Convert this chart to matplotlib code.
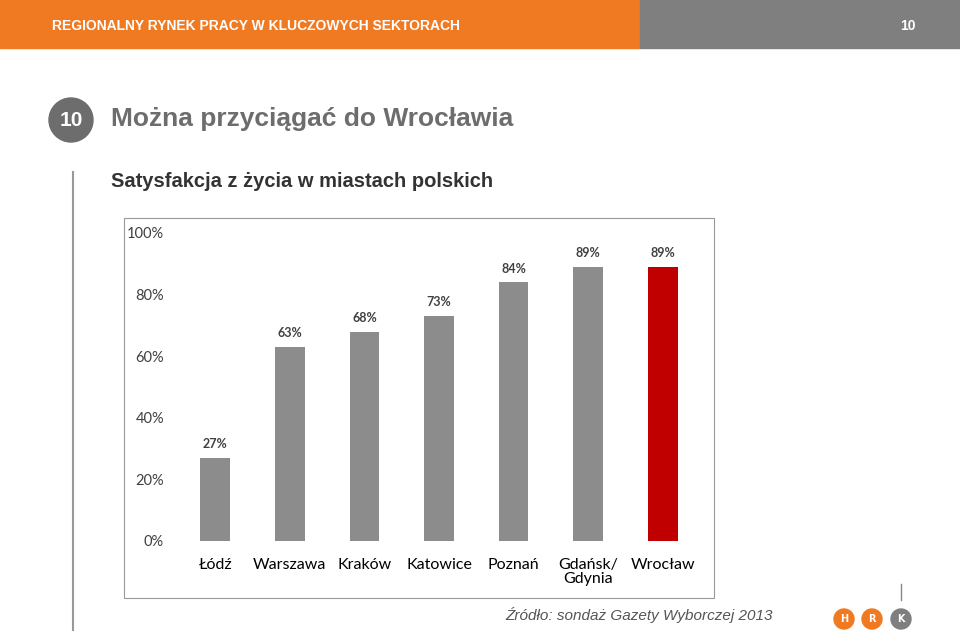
import matplotlib
matplotlib.use("Agg")
import matplotlib.pyplot as plt
from matplotlib.patches import Rectangle, Ellipse

categories = ["Łódź", "Warszawa", "Kraków", "Katowice", "Poznań", "Gdańsk/\nGdynia", "Wrocław"]
values = [27, 63, 68, 73, 84, 89, 89]
yticks = [0, 20, 40, 60, 80, 100]

fig = plt.figure(figsize=(9.6, 6.31), dpi=100)
W, H = 960, 631
def fx(x): return x / W
def fy(y): return 1 - y / H
def circ(cx, cy, r, col):
    fig.add_artist(Ellipse((fx(cx), fy(cy)), 2 * r / W, 2 * r / H, color=col, transform=fig.transFigure))

fig.add_artist(Rectangle((0, fy(48)), fx(640), 48 / H, color="#f07a22", transform=fig.transFigure))
fig.add_artist(Rectangle((fx(640), fy(48)), fx(320), 48 / H, color="#7f7f7f", transform=fig.transFigure))
fig.text(fx(52), fy(26), "REGIONALNY RYNEK PRACY W KLUCZOWYCH SEKTORACH", color="white",
         fontsize=10, family="Liberation Sans", va="center", weight="bold")
fig.text(fx(908), fy(26), "10", color="white", fontsize=10, family="Liberation Sans", va="center",
         ha="center", weight="bold")

circ(71, 120, 22, "#6d6d6d")
fig.text(fx(71), fy(120), "10", color="white", fontsize=15, family="Liberation Sans",
         ha="center", va="center", weight="bold")
fig.text(fx(111), fy(119), "Można przyciągać do Wrocławia", color="#6d6d6d", fontsize=19,
         family="Liberation Sans", va="center", weight="bold")
fig.text(fx(111), fy(181), "Satysfakcja z życia w miastach polskich", color="#333333", fontsize=14.5,
         family="Liberation Sans", va="center", weight="bold")
fig.add_artist(plt.Line2D([fx(73), fx(73)], [fy(172), fy(630)], color="#999999", lw=1.5, transform=fig.transFigure))

fig.add_artist(Rectangle((fx(124), fy(598)), fx(590), 380 / H, fill=False, ec="#999999", lw=0.8,
                         transform=fig.transFigure))

ax = fig.add_axes([fx(178), fy(541), fx(522), 308 / H])
x = range(len(categories))
colors = ["#8c8c8c"] * 6 + ["#c00000"]
ax.bar(x, values, width=0.4, color=colors)
for i, v in zip(x, values):
    ax.text(i, v + 2.5, f"{v}%", ha="center", va="bottom", fontsize=9, weight="bold",
            family="Lato", color="#404040")
ax.set_xlim(-0.5, len(categories) - 0.5)
ax.set_ylim(0, 100)
ax.set_yticks(yticks)
ax.set_yticklabels([f"{t}%" for t in yticks], family="Lato", fontsize=10.5, color="#404040")
ax.set_xticks(list(x))
ax.set_xticklabels(categories, family="Lato", fontsize=11.5, color="black", linespacing=1.0)
ax.tick_params(axis="x", length=0, pad=12)
ax.tick_params(axis="y", length=0, pad=10)
for s in ax.spines.values():
    s.set_visible(False)

fig.text(fx(505), fy(615), "Źródło: sondaż Gazety Wyborczej 2013", style="italic", color="#555555",
         fontsize=11, family="Liberation Sans", va="center")
fig.add_artist(plt.Line2D([fx(901), fx(901)], [fy(584), fy(600)], color="#888888", lw=1, transform=fig.transFigure))
for cx, col, t in [(844, "#f07a22", "H"), (872, "#f07a22", "R"), (901, "#7f7f7f", "K")]:
    circ(cx, 619, 10, col)
    fig.text(fx(cx), fy(619), t, color="white", fontsize=7, weight="bold", ha="center", va="center")

fig.savefig("out.png", dpi=100)
